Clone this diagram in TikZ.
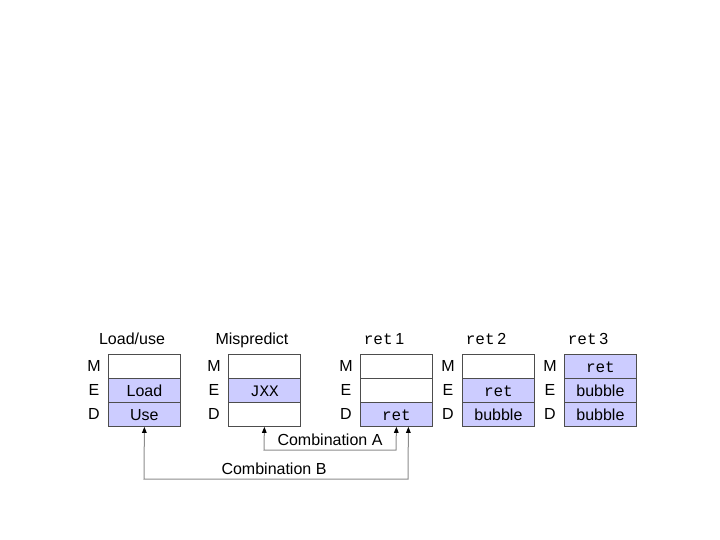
\documentclass[tikz,border=0pt]{standalone}
\usepackage{fontspec}
\setmainfont{Liberation Sans}
\setmonofont{Liberation Mono}
\usetikzlibrary{arrows.meta}
\definecolor{hl}{HTML}{CCCCFF}
\definecolor{edge}{HTML}{4D4D4D}
\definecolor{wire}{HTML}{8C8C8C}
\begin{document}
\begin{tikzpicture}[x=1pt,y=-1pt,
  txt/.style={font=\fontsize{16}{19}\selectfont},
  cell/.style={txt, draw=edge, line width=0.8pt, minimum width=72pt, minimum height=24pt, inner sep=0pt, anchor=north west, text height=11.5pt, text depth=0pt},
  hot/.style={cell, fill=hl},
  lbl/.style={txt, inner sep=0pt, text height=11.5pt, text depth=0pt},
  conn/.style={draw=wire, line width=1pt, arrows={Triangle[length=6pt,width=4.5pt,color=black]-Triangle[length=6pt,width=4.5pt,color=black]}}
]
\useasboundingbox (0,0) rectangle (720,540);

% Load/use
\node[lbl] (t1) at (132,339) {Load/use};
\node[cell] (luM) at (108,354) {};
\node[hot]  (luE) at (108,378) {Load};
\node[hot]  (luD) at (108,402) {Use};
\node[lbl] (l1M) at (94,366) {M};
\node[lbl] (l1E) at (94,390) {E};
\node[lbl] (l1D) at (94,414) {D};

% Mispredict
\node[lbl] (t2) at (252,339) {Mispredict};
\node[cell] (mpM) at (228,354) {};
\node[hot]  (mpE) at (228,378) {\texttt{JXX}};
\node[cell] (mpD) at (228,402) {};
\node[lbl] (l2M) at (214,366) {M};
\node[lbl] (l2E) at (214,390) {E};
\node[lbl] (l2D) at (214,414) {D};

% ret 1
\node[lbl] (t3) at (384,339) {\texttt{ret}\,1};
\node[cell] (r1M) at (360,354) {};
\node[cell] (r1E) at (360,378) {};
\node[hot]  (r1D) at (360,402) {\texttt{ret}};
\node[lbl] (l3M) at (346,366) {M};
\node[lbl] (l3E) at (346,390) {E};
\node[lbl] (l3D) at (346,414) {D};

% ret 2
\node[lbl] (t4) at (486,339) {\texttt{ret}\,2};
\node[cell] (r2M) at (462,354) {};
\node[hot]  (r2E) at (462,378) {\texttt{ret}};
\node[hot]  (r2D) at (462,402) {bubble};
\node[lbl] (l4M) at (448,366) {M};
\node[lbl] (l4E) at (448,390) {E};
\node[lbl] (l4D) at (448,414) {D};

% ret 3
\node[lbl] (t5) at (588,339) {\texttt{ret}\,3};
\node[hot]  (r3M) at (564,354) {\texttt{ret}};
\node[hot]  (r3E) at (564,378) {bubble};
\node[hot]  (r3D) at (564,402) {bubble};
\node[lbl] (l5M) at (550,366) {M};
\node[lbl] (l5E) at (550,390) {E};
\node[lbl] (l5D) at (550,414) {D};

% connectors
\coordinate (a1) at (264,450);
\coordinate (a2) at (396,450);
\coordinate (b1) at (144,479);
\coordinate (b2) at (408,479);
\draw[conn] (mpD.south) -- (a1) -- (a2) -- (r1D.south);
\draw[conn] (luD.south) -- (b1) -- (b2) -- ([xshift=12pt]r1D.south);

\node[lbl] (ca) at (330,440) {Combination A};
\node[lbl] (cb) at (274,469) {Combination B};
\end{tikzpicture}
\end{document}
